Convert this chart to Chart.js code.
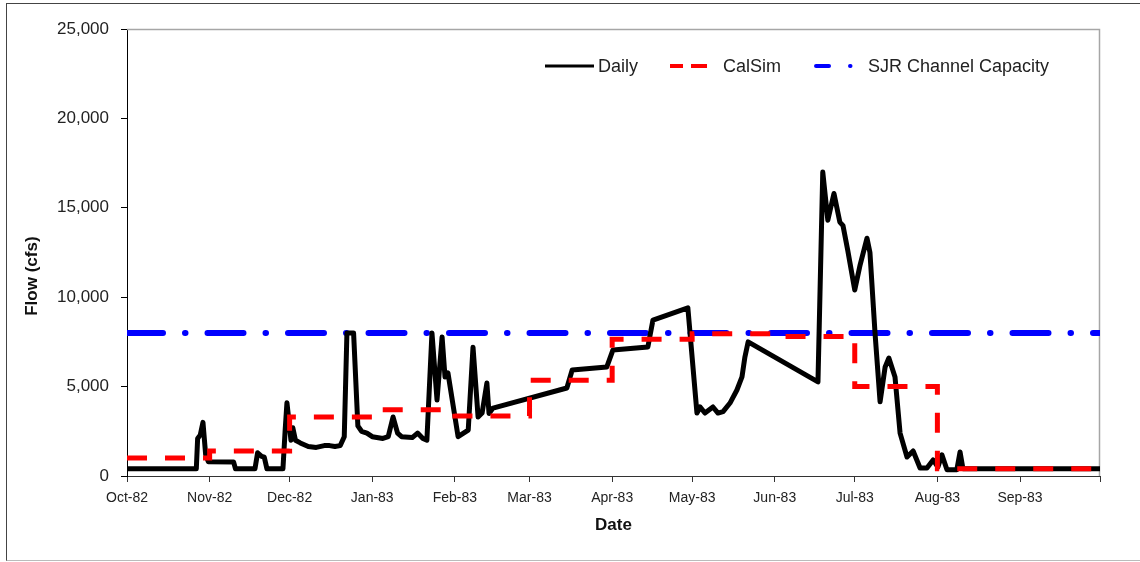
<!DOCTYPE html>
<html lang="en">
<head>
<meta charset="utf-8">
<script src="https://cdn.jsdelivr.net/npm/chart.js@4.4.0/dist/chart.umd.min.js"></script>
<style>
  body { margin: 0; background: #fff; }
  #wrap { position: relative; width: 1140px; height: 562px; }
  #frame { position: absolute; left: 6px; top: 3px; width: 1134px; height: 556px;
           border-left: 1px solid #444; border-top: 1px solid #444; border-bottom: 1px solid #bbb;
           pointer-events: none; }
</style>
</head>
<body>
<div id="wrap">
  <canvas id="chart" width="1140" height="562"></canvas>
  <div id="frame"></div>
</div>

<script>
"use strict";

// water year Oct-82 .. Sep-83, x = day of water year
var monthStarts = [0, 31, 61, 92, 123, 151, 182, 212, 243, 273, 304, 335, 365];
var monthLabels = ['Oct-82', 'Nov-82', 'Dec-82', 'Jan-83', 'Feb-83', 'Mar-83',
                   'Apr-83', 'May-83', 'Jun-83', 'Jul-83', 'Aug-83', 'Sep-83'];

// daily flow (cfs)
var dailyDay = [
  0, 26, 26.5, 27.5, 28.5, 29.5, 30.5, 40, 40.7, 48, 49, 50.5, 51.5, 52.5, 58.5,
  59.3, 60, 60.8, 61.5, 62.2, 63.2, 65, 68, 71, 74, 76, 78, 80, 81.5, 82.5, 85, 86.6, 88, 90,
  92, 96, 98, 99.8, 101.5, 103, 107, 109, 111, 112.5,
  114.4, 116.3, 118.2, 119.3, 120.4, 124.2, 128, 129.8, 131.7, 133.2, 135, 135.8, 137.3,
  165, 167, 180, 182.3, 195.4, 197.3, 210.4,
  213.8, 215, 216.8, 219.8, 221.7, 223.6, 226.2, 228.8, 230.7, 231.8, 233, 259.2,
  261, 262.9, 265.2, 267.4, 268.6, 270.4, 273, 275, 277.6, 278.7, 280.6, 282.5, 284.4, 285.8, 288.1, 290,
  292.6, 294.9, 297.5, 300.1, 302.4, 304.2, 305.7, 307.6, 311.3, 312.5, 313.6, 365
];
var dailyFlow = [
  400, 400, 2100, 2300, 3000, 1200, 800, 780, 400, 400, 1300, 1100, 1050, 400, 400,
  2500, 4100, 3000, 2000, 2700, 2000, 1850, 1650, 1600, 1700, 1700, 1650, 1700, 2200, 8000, 8000, 2800, 2500, 2400,
  2200, 2100, 2200, 3300, 2400, 2200, 2150, 2400, 2100, 2000,
  8000, 4250, 7780, 5540, 5760, 2200, 2570, 7200, 3300, 3520, 5200, 3500, 3800,
  4920, 5930, 6100, 7050, 7220, 8720, 9400,
  3520, 3860, 3520, 3860, 3520, 3600, 4080, 4810, 5540, 6660, 7500, 5260,
  17000, 14300, 15800, 14200, 14000, 12600, 10400, 11800, 13300, 12500, 8000, 4150, 6100, 6600, 5540, 2400,
  1060, 1400, 450, 450, 900, 500, 1180, 350, 350, 1340, 400, 400
];

// CalSim monthly flow, one value per month
var calsimFlow = [1000, 1400, 3300, 3700, 3350, 5350, 7650, 7950, 7800, 5000, 400, 400];

var channelCapacity = 8000;

var yTicks = [0, 5000, 10000, 15000, 20000, 25000];

var FONT = '"Liberation Sans", Arial, sans-serif';

function pairs(xs, ys) {
  return xs.map(function(x, i) { return {x: x, y: ys[i]}; });
}

var calsimData = pairs(monthStarts.slice(0, 12), calsimFlow);
calsimData.push({x: 365, y: calsimFlow[11]});

var capacityData = [{x: 0, y: channelCapacity}, {x: 365, y: channelCapacity}];

// legend sample look for each dataset (drawn by the plugin below)
var legendSamples = [
  {len: 49, dash: [], gap: 4, after: 32, width: 3, cap: 'butt'},
  {len: 37, dash: [13, 8, 16, 100], gap: 16, after: 35, width: 4, cap: 'butt'},
  {len: 36, dash: [13, 21, 0.5, 100], gap: 16, after: 0, width: 4, cap: 'round'}
];

var frameLines = {
  id: 'frameLines',
  beforeDatasetsDraw: function(chart) {
    var a = chart.chartArea, ctx = chart.ctx;
    ctx.save();
    ctx.strokeStyle = '#a6a6a6';
    ctx.lineWidth = 1.5;
    ctx.beginPath();
    ctx.moveTo(a.left, a.top + 0.5);
    ctx.lineTo(a.right - 0.5, a.top + 0.5);
    ctx.lineTo(a.right - 0.5, a.bottom);
    ctx.stroke();
    ctx.restore();
  }
};

var lineLegend = {
  id: 'lineLegend',
  afterDatasetsDraw: function(chart) {
    var a = chart.chartArea, ctx = chart.ctx;
    var x = a.left + 418, y = a.top + 37;
    ctx.save();
    ctx.font = '18px ' + FONT;
    ctx.textBaseline = 'middle';
    ctx.fillStyle = '#222';
    chart.data.datasets.forEach(function(ds, i) {
      var s = legendSamples[i];
      ctx.strokeStyle = ds.borderColor;
      ctx.lineWidth = s.width;
      ctx.lineCap = s.cap;
      ctx.setLineDash(s.dash);
      ctx.beginPath();
      ctx.moveTo(x, y);
      ctx.lineTo(x + s.len, y);
      ctx.stroke();
      x += s.len + s.gap;
      ctx.fillText(ds.label, x, y + 1);
      x += ctx.measureText(ds.label).width + s.after;
    });
    ctx.restore();
  }
};

var chart = new Chart(document.getElementById('chart'), {
  type: 'line',
  data: {
    datasets: [{
      label: 'Daily',
      data: pairs(dailyDay, dailyFlow),
      borderColor: '#000000',
      borderWidth: 5,
      borderJoinStyle: 'round',
      borderCapStyle: 'round',
      pointRadius: 0,
      tension: 0,
      order: 2
    }, {
      label: 'CalSim',
      data: calsimData,
      stepped: 'before',
      borderColor: '#ff0000',
      borderWidth: 5,
      borderDash: [20, 18],
      pointRadius: 0,
      order: 1
    }, {
      label: 'SJR Channel Capacity',
      data: capacityData,
      borderColor: '#0000ff',
      borderWidth: 6,
      borderDash: [36, 22, 0.5, 22],
      borderCapStyle: 'round',
      pointRadius: 0,
      order: 3
    }]
  },
  options: {
    responsive: false,
    animation: false,
    events: [],
    layout: { padding: { top: 29, right: 40, bottom: 0, left: 0 } },
    plugins: {
      legend: { display: false },
      tooltip: { enabled: false }
    },
    scales: {
      x: {
        type: 'linear',
        min: 0,
        max: 365,
        afterBuildTicks: function(scale) {
          scale.ticks = monthStarts.map(function(v) { return {value: v}; });
        },
        afterFit: function(scale) { scale.height = 86; },
        ticks: {
          autoSkip: false,
          maxRotation: 0,
          padding: 8,
          color: '#222',
          font: { family: FONT, size: 14 },
          callback: function(v, i) { return monthLabels[i] || ''; }
        },
        grid: { drawOnChartArea: false, drawTicks: true, tickLength: 6, color: '#333' },
        border: { color: '#333', width: 1 },
        title: {
          display: true,
          text: 'Date',
          color: '#111',
          font: { family: FONT, size: 17, weight: 'bold' },
          padding: { top: 0, bottom: 26 }
        }
      },
      y: {
        min: 0,
        max: 25000,
        afterBuildTicks: function(scale) {
          scale.ticks = yTicks.map(function(v) { return {value: v}; });
        },
        afterFit: function(scale) { scale.width = 127; },
        ticks: {
          padding: 12,
          color: '#222',
          font: { family: FONT, size: 17 },
          callback: function(v) { return v.toLocaleString('en-US'); }
        },
        grid: { drawOnChartArea: false, drawTicks: true, tickLength: 6, color: '#000' },
        border: { color: '#000', width: 1 },
        title: {
          display: true,
          // trailing spaces push the rotated title a little below the axis middle
          text: 'Flow (cfs)' + '\u00a0'.repeat(10),
          color: '#111',
          font: { family: FONT, size: 17, weight: 'bold' },
          padding: { top: 22, bottom: 0 }
        }
      }
    }
  },
  plugins: [frameLines, lineLegend]
});
</script>
</body>
</html>
